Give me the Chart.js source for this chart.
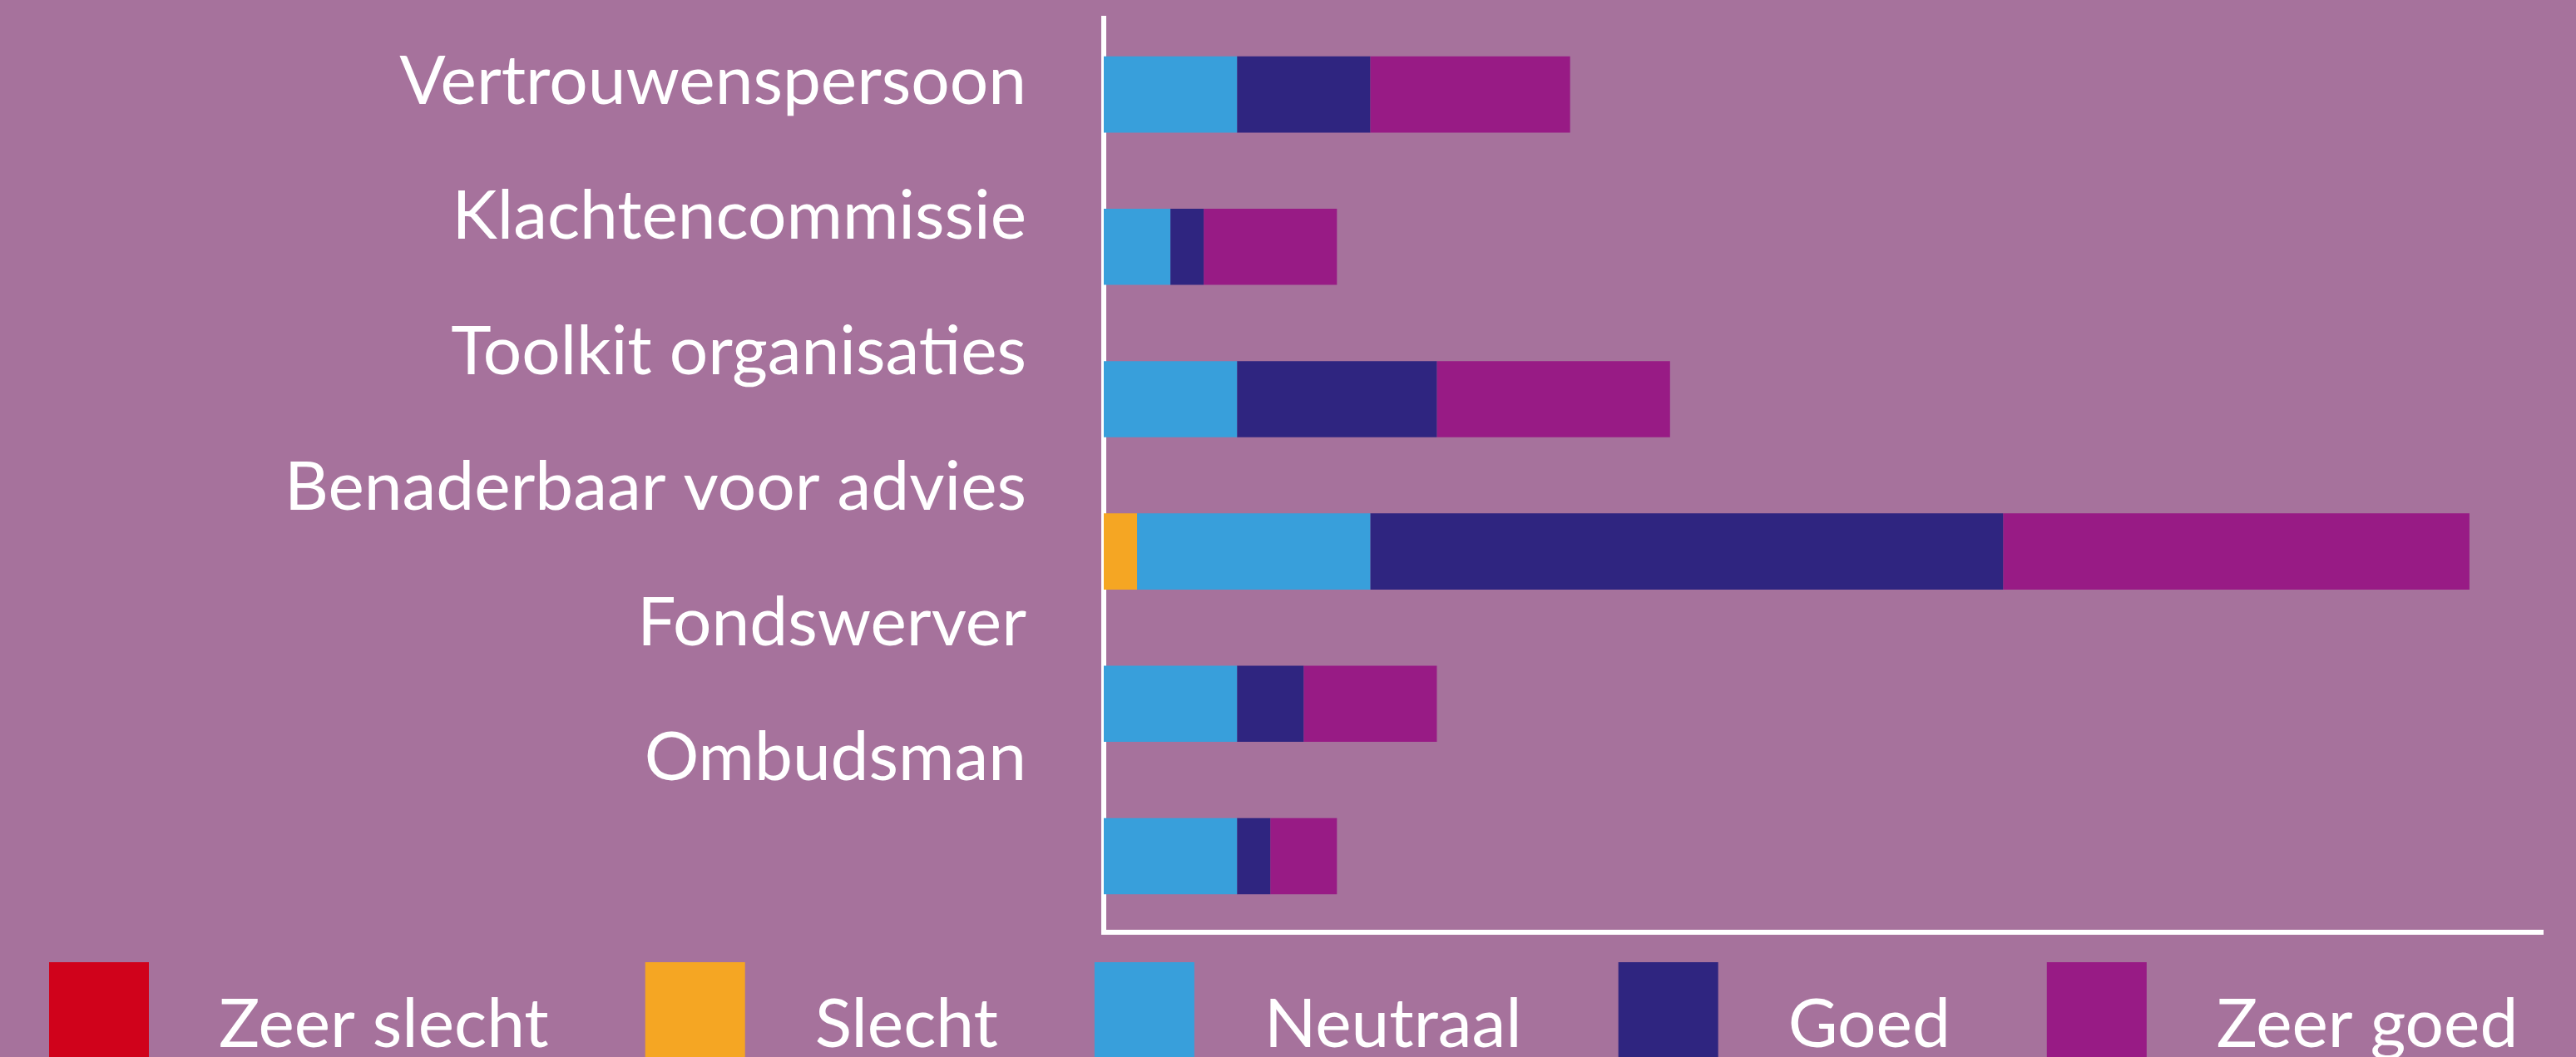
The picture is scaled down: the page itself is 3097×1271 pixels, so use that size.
<!DOCTYPE html>
<html>
<head>
<meta charset="utf-8">
<script src="https://cdn.jsdelivr.net/npm/chart.js@4/dist/chart.umd.min.js"></script>
<style>
  html, body { margin: 0; padding: 0; background: #a6729c; overflow: hidden; }
  #wrap { width: 3097px; height: 1271px; position: relative; }
</style>
</head>
<body>
<div id="wrap"><canvas id="c"></canvas></div>
<script>
// ---- data ----
const categories = ['Vertrouwenspersoon', 'Klachtencommissie', 'Toolkit organisaties', 'Benaderbaar voor advies', 'Fondswerver', 'Ombudsman'];
const seriesNames = ['Zeer slecht', 'Slecht', 'Neutraal', 'Goed', 'Zeer goed'];
const zeerSlecht = [0, 0, 0, 0, 0, 0];
const slecht     = [0, 0, 0, 1, 0, 0];
const neutraal   = [4, 2, 4, 7, 4, 4];
const goed       = [4, 1, 6, 19, 2, 1];
const zeerGoed   = [6, 4, 7, 14, 4, 2];
const seriesColors = ['#d0021b', '#f5a623', '#389fdb', '#2f2580', '#981b85'];

const seriesValues = [zeerSlecht, slecht, neutraal, goed, zeerGoed];
const FONT = 'Lato';

const bigLegend = {
  id: 'bigLegend',
  afterDraw(chart, args, opts) {
    const ctx = chart.ctx;
    ctx.save();
    ctx.font = opts.fontSize + 'px ' + FONT;
    ctx.textBaseline = 'alphabetic';
    ctx.textAlign = 'left';
    let x = opts.left;
    chart.data.datasets.forEach(ds => {
      ctx.fillStyle = ds.backgroundColor;
      ctx.fillRect(x, opts.top, opts.box, opts.box);
      x += opts.box + opts.textGap;
      ctx.fillStyle = '#ffffff';
      ctx.fillText(ds.label, x, opts.baseline);
      x += ctx.measureText(ds.label).width + opts.itemGap;
    });
    ctx.restore();
  }
};

Chart.defaults.color = '#ffffff';
Chart.defaults.font.family = FONT;

new Chart(document.getElementById('c'), {
  type: 'bar',
  data: {
    labels: categories,
    datasets: seriesNames.map((name, i) => ({
      label: name,
      data: seriesValues[i],
      backgroundColor: seriesColors[i],
      borderWidth: 0,
      barPercentage: 0.5,
      categoryPercentage: 1.0
    }))
  },
  options: {
    indexAxis: 'y',
    responsive: true,
    maintainAspectRatio: false,
    animation: false,
    layout: { padding: { top: 22, right: 40, bottom: 150, left: 0 } },
    plugins: {
      legend: { display: false },
      tooltip: { enabled: false },
      bigLegend: { left: 59, top: 1157, box: 120, textGap: 84, itemGap: 116, baseline: 1259, fontSize: 82 }
    },
    scales: {
      x: {
        stacked: true,
        min: 0,
        max: 43.2,
        ticks: { display: false },
        grid: { display: false, drawTicks: false },
        border: { display: true, color: '#ffffff', width: 6 }
      },
      y: {
        stacked: true,
        position: 'left',
        z: 1,
        weight: 0,
        ticks: { display: false },
        grid: { display: false, drawTicks: false },
        border: { display: true, color: '#ffffff', width: 6 }
      },
      yLab: {
        type: 'linear',
        position: 'left',
        weight: 10,
        offset: false,
        reverse: true,
        min: -0.469,
        max: 6.286,
        grid: { display: false, drawTicks: false, offset: false },
        border: { display: false },
        ticks: {
          color: '#ffffff',
          padding: 93,
          font: { family: FONT, size: 82 },
          autoSkip: false,
          callback: (v) => (categories[v] !== undefined ? categories[v] : '')
        },
        afterBuildTicks: (scale) => { scale.ticks = categories.map((_, i) => ({ value: i })); },
        afterFit: (scale) => {
          scale.width = 1327;
          scale.paddingTop = 0;
          scale.paddingBottom = 0;
        }
      }
    }
  },
  plugins: [bigLegend]
});
</script>
</body>
</html>
